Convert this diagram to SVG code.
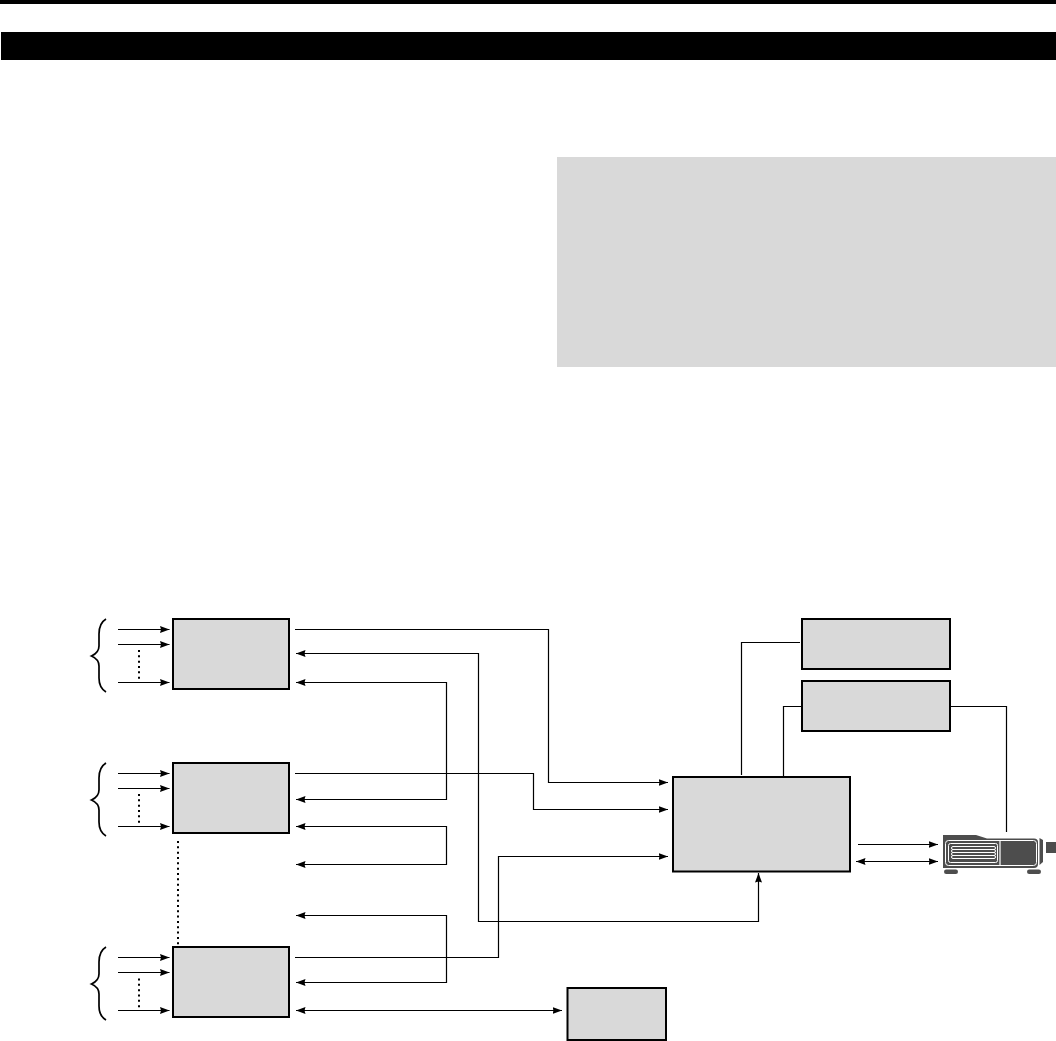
<svg xmlns="http://www.w3.org/2000/svg" width="1056" height="1041" viewBox="0 0 1056 1041">
<style>
.box{fill:#d9d9d9;stroke:#000;stroke-width:2}
.ln{fill:none;stroke:#000;stroke-width:1.2}
.dot{fill:none;stroke:#000;stroke-width:2;stroke-dasharray:2 3.33}
.br{fill:none;stroke:#000;stroke-width:1.7}
</style>
<defs>
<marker id="a" markerUnits="userSpaceOnUse" markerWidth="10" markerHeight="7" refX="9.5" refY="3.5" orient="auto-start-reverse"><path d="M0 0L9.5 3.5L0 7L1 3.5Z" fill="#000"/></marker>
<path id="brace" class="br" d="M106 0C101 3 99 8 99 15V27C99 32 96 35 91.500 37C96 39 99 42 99 47V59C99 66 101 70 106 73"/>
</defs>
<rect width="1056" height="1041" fill="#fff"/>
<rect x="0" y="0" width="1056" height="4" fill="#000"/>
<rect x="1" y="32" width="1055" height="28" fill="#000"/>
<rect x="557" y="157" width="499" height="210" fill="#d9d9d9"/>
<g id="nodes">
<g id="src1"><rect class="box" x="173" y="619" width="116" height="70"/></g>
<g id="src2"><rect class="box" x="173" y="763" width="116" height="70"/></g>
<g id="src3"><rect class="box" x="173" y="947" width="116" height="70"/></g>
<g id="hub"><rect class="box" x="673" y="777" width="177" height="94.500"/></g>
<g id="top-a"><rect class="box" x="802" y="619" width="148" height="50"/></g>
<g id="top-b"><rect class="box" x="802" y="681" width="148" height="50"/></g>
<g id="small"><rect class="box" x="567.500" y="988" width="98.500" height="52"/></g>
<g id="projector">
<path d="M943 835H976L987 838.500H1034Q1038 838.500 1038 842V864Q1038 868 1034 868H943Z" fill="#4d4d4d"/>
<rect x="945.500" y="840.500" width="91" height="25" rx="3" fill="none" stroke="#fff" stroke-width="1"/>
<rect x="948.500" y="843.500" width="49" height="19" rx="2" fill="none" stroke="#fff" stroke-width="1"/>
<rect x="951.500" y="846.500" width="44" height="3" rx="1.500" fill="#4d4d4d" stroke="#fff" stroke-width="1"/>
<rect x="951.500" y="849.500" width="44" height="3" rx="1.500" fill="#4d4d4d" stroke="#fff" stroke-width="1"/>
<rect x="951.500" y="852.500" width="44" height="3" rx="1.500" fill="#4d4d4d" stroke="#fff" stroke-width="1"/>
<rect x="951.500" y="855.500" width="44" height="3" rx="1.500" fill="#4d4d4d" stroke="#fff" stroke-width="1"/>
<path d="M1000 840V866" stroke="#fff" stroke-width="1.200"/>
<rect x="944" y="869.500" width="14" height="4.500" rx="2.200" fill="#4d4d4d"/>
<rect x="1027" y="869.500" width="14" height="4.500" rx="2.200" fill="#4d4d4d"/>
<path d="M1039.500 838L1043 840V862L1039.500 865Z" fill="#4d4d4d"/>
<rect x="1046" y="842" width="10" height="11" fill="#4d4d4d"/>
</g>
</g>
<g id="connectors">
<path class="ln" marker-end="url(#a)" d="M118 629.500H169.500"/>
<path class="ln" marker-end="url(#a)" d="M118 644.500H169.500"/>
<path class="ln" marker-end="url(#a)" d="M118 682.500H169.500"/>
<path class="ln" marker-end="url(#a)" d="M118 773.500H169.500"/>
<path class="ln" marker-end="url(#a)" d="M118 788.500H169.500"/>
<path class="ln" marker-end="url(#a)" d="M118 826.500H169.500"/>
<path class="ln" marker-end="url(#a)" d="M118 957.500H169.500"/>
<path class="ln" marker-end="url(#a)" d="M118 972.500H169.500"/>
<path class="ln" marker-end="url(#a)" d="M118 1010.500H169.500"/>
<path class="dot" d="M139 650V680"/>
<path class="dot" d="M139 794V824"/>
<path class="dot" d="M139 978.500V1008"/>
<path class="dot" d="M178 841V944.500"/>
<path class="ln" marker-end="url(#a)" d="M295 629.500H548.500V782.500H668"/>
<path class="ln" marker-start="url(#a)" marker-end="url(#a)" d="M296 653.500H478.500V921.500H758.500V873"/>
<path class="ln" marker-start="url(#a)" marker-end="url(#a)" d="M296 682.500H446.500V799.500H296"/>
<path class="ln" marker-end="url(#a)" d="M295 773.500H533.500V809.500H668"/>
<path class="ln" marker-start="url(#a)" marker-end="url(#a)" d="M296 826.500H446.500V864.500H296"/>
<path class="ln" marker-start="url(#a)" marker-end="url(#a)" d="M296 915.500H446.500V982.500H296"/>
<path class="ln" marker-end="url(#a)" d="M295 957.500H498.500V856.500H668"/>
<path class="ln" marker-start="url(#a)" marker-end="url(#a)" d="M296 1010.500H562"/>
<path class="ln" d="M741.500 775V642.500H800"/>
<path class="ln" d="M783.500 776V706.500H802"/>
<path class="ln" d="M950 706.500H1006.500V832"/>
<path class="ln" marker-end="url(#a)" d="M858 844.500H938"/>
<path class="ln" marker-start="url(#a)" marker-end="url(#a)" d="M856 861.500H938"/>
</g>
<g id="braces">
<use href="#brace" x="0" y="619"/>
<use href="#brace" x="0" y="763"/>
<use href="#brace" x="0" y="947"/>
</g>
</svg>
